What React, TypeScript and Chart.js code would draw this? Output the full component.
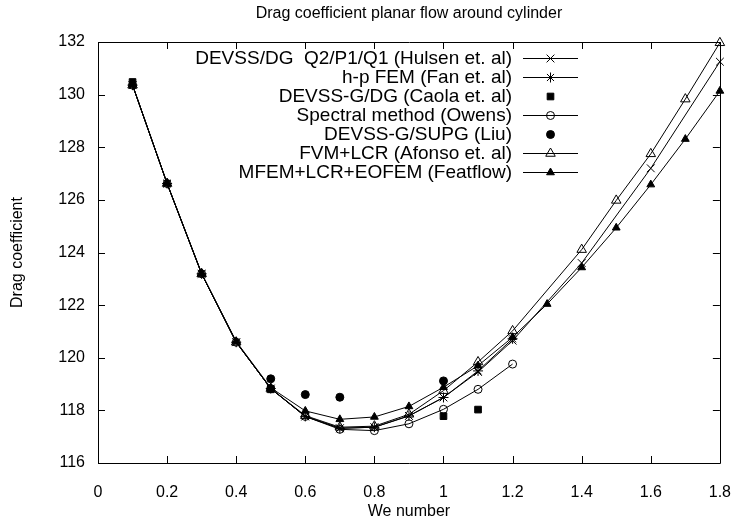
import React, { useEffect, useRef } from 'react';
import { Chart, registerables } from 'chart.js';
import { drawPoint } from 'chart.js/helpers';

Chart.register(...registerables);

// ---- data ----
const TITLE = 'Drag coefficient planar flow around cylinder';
const X_TITLE = 'We number';
const Y_TITLE = 'Drag coefficient';

const X_TICKS = [0, 0.2, 0.4, 0.6, 0.8, 1.0, 1.2, 1.4, 1.6, 1.8];
const Y_TICKS = [116, 118, 120, 122, 124, 126, 128, 130, 132];

const weHulsen = [0.1, 0.2, 0.3, 0.4, 0.5, 0.6, 0.7, 0.8, 0.9, 1.0, 1.1, 1.2, 1.4, 1.6, 1.8];
const cdHulsen = [130.36, 126.62, 123.19, 120.59, 118.83, 117.77, 117.32, 117.36, 117.79, 118.49, 119.46, 120.65, 123.6, 127.2, 131.25];

const weFan = [0.1, 0.2, 0.3, 0.4, 0.5, 0.6, 0.7, 0.8, 0.9, 1.0, 1.1, 1.2];
const cdFan = [130.36, 126.62, 123.19, 120.59, 118.83, 117.77, 117.32, 117.36, 117.79, 118.49, 119.5, 120.72];

const weCaola = [0.1, 0.5, 1.0, 1.1];
const cdCaola = [130.48, 118.8, 117.78, 118.03];

const weOwens = [0.1, 0.2, 0.3, 0.4, 0.5, 0.6, 0.7, 0.8, 0.9, 1.0, 1.1, 1.2];
const cdOwens = [130.36, 126.62, 123.19, 120.59, 118.83, 117.77, 117.28, 117.23, 117.49, 118.04, 118.8, 119.76];

const weLiu = [0.5, 0.6, 0.7, 1.0];
const cdLiu = [119.2, 118.6, 118.5, 119.12];

const weAfonso = [0.1, 0.2, 0.3, 0.4, 0.5, 0.6, 0.7, 0.8, 0.9, 1.0, 1.1, 1.2, 1.4, 1.5, 1.6, 1.7, 1.8];
const cdAfonso = [130.36, 126.62, 123.19, 120.59, 118.83, 117.8, 117.36, 117.4, 117.85, 118.75, 119.84, 121.02, 124.11, 125.98, 127.75, 129.83, 131.97];

const weFeat = [0.1, 0.2, 0.3, 0.4, 0.5, 0.6, 0.7, 0.8, 0.9, 1.0, 1.1, 1.2, 1.3, 1.4, 1.5, 1.6, 1.7, 1.8];
const cdFeat = [130.37, 126.63, 123.21, 120.62, 118.86, 117.98, 117.66, 117.75, 118.15, 118.88, 119.7, 120.78, 122.04, 123.43, 124.94, 126.58, 128.31, 130.14];

const LABELS = [
  'DEVSS/DG  Q2/P1/Q1 (Hulsen et. al)',
  'h-p FEM (Fan et. al)',
  'DEVSS-G/DG (Caola et. al)',
  'Spectral method (Owens)',
  'DEVSS-G/SUPG (Liu)',
  'FVM+LCR (Afonso et. al)',
  'MFEM+LCR+EOFEM (Featflow)',
];

const FONT = '"Liberation Sans", Arial, Helvetica, sans-serif';

const pts = (xs: number[], ys: number[]) => xs.map((x, i) => ({ x, y: ys[i] }));

const frameTicksPlugin = {
  id: 'frameTicks',
  beforeDatasetsDraw(chart: any) {
    const { ctx, chartArea } = chart;
    const { left, right, top, bottom } = chartArea;
    const xs = chart.scales.x;
    const ys = chart.scales.y;
    const L = 7;
    ctx.save();
    ctx.strokeStyle = '#000';
    ctx.lineWidth = 1;
    ctx.beginPath();
    ctx.rect(Math.round(left) + 0.5, Math.round(top) + 0.5, Math.round(right - left), Math.round(bottom - top));
    X_TICKS.forEach((v) => {
      const px = Math.round(xs.getPixelForValue(v)) + 0.5;
      ctx.moveTo(px, bottom);
      ctx.lineTo(px, bottom - L);
      ctx.moveTo(px, top);
      ctx.lineTo(px, top + L);
    });
    Y_TICKS.forEach((v) => {
      const py = Math.round(ys.getPixelForValue(v)) + 0.5;
      ctx.moveTo(left, py);
      ctx.lineTo(left + L, py);
      ctx.moveTo(right, py);
      ctx.lineTo(right - L, py);
    });
    ctx.stroke();
    ctx.restore();
  },
  afterDraw(chart: any) {
    const { ctx, chartArea } = chart;
    const cx = (chartArea.left + chartArea.right) / 2;
    const cy = (chartArea.top + chartArea.bottom) / 2;
    ctx.save();
    ctx.fillStyle = '#000';
    ctx.textAlign = 'center';
    ctx.textBaseline = 'middle';
    ctx.font = `16px ${FONT}`;
    ctx.fillText(TITLE, cx, 14);
    ctx.font = `16px ${FONT}`;
    ctx.fillText(X_TITLE, cx, 512);
    ctx.translate(18, cy);
    ctx.rotate(-Math.PI / 2);
    ctx.fillText(Y_TITLE, 0, 0);
    ctx.restore();
  },
};

const legendPlugin = {
  id: 'gpLegend',
  afterDatasetsDraw(chart: any) {
    const { ctx } = chart;
    ctx.save();
    ctx.font = `19px ${FONT}`;
    ctx.textAlign = 'right';
    ctx.textBaseline = 'middle';
    chart.data.datasets.forEach((ds: any, i: number) => {
      const y = 58 + i * 19;
      ctx.fillStyle = '#000';
      ctx.fillText(ds.label, 512, y + 1);
      ctx.strokeStyle = '#000';
      ctx.lineWidth = 1;
      if (ds.showLine) {
        ctx.beginPath();
        ctx.moveTo(523, Math.round(y) + 0.5);
        ctx.lineTo(578, Math.round(y) + 0.5);
        ctx.stroke();
      }
      ctx.fillStyle = ds.pointBackgroundColor;
      ctx.strokeStyle = '#000';
      drawPoint(ctx, { pointStyle: ds.pointStyle, radius: ds.pointRadius, rotation: 0, borderWidth: 1 }, 550.5, Math.round(y) + 0.5);
    });
    ctx.restore();
  },
};

const mk = (label: string, data: any[], style: string, radius: number, filled: boolean, line: boolean) => ({
  label,
  data,
  showLine: line,
  borderColor: '#000',
  borderWidth: 1,
  backgroundColor: filled ? '#000' : 'rgba(0,0,0,0)',
  pointStyle: style,
  pointRadius: radius,
  pointHoverRadius: radius,
  pointBorderWidth: 1,
  pointBorderColor: '#000',
  pointBackgroundColor: filled ? '#000' : 'rgba(0,0,0,0)',
  tension: 0,
  clip: false,
});

export default function App() {
  const ref = useRef<HTMLCanvasElement>(null);
  useEffect(() => {
    if (!ref.current) return;
    const chart = new Chart(ref.current, {
      type: 'scatter',
      data: {
        datasets: [
          mk(LABELS[0], pts(weHulsen, cdHulsen), 'crossRot', 5.5, false, true),
          mk(LABELS[1], pts(weFan, cdFan), 'star', 5, false, true),
          mk(LABELS[2], pts(weCaola, cdCaola), 'rect', 4.7, true, false),
          mk(LABELS[3], pts(weOwens, cdOwens), 'circle', 4, false, true),
          mk(LABELS[4], pts(weLiu, cdLiu), 'circle', 4, true, false),
          mk(LABELS[5], pts(weAfonso, cdAfonso), 'triangle', 5.5, false, true),
          mk(LABELS[6], pts(weFeat, cdFeat), 'triangle', 4.5, true, true),
        ] as any,
      },
      options: {
        responsive: false,
        animation: false,
        devicePixelRatio: 1,
        layout: { padding: { left: 0, top: 42, right: 15, bottom: 0 } },
        plugins: { legend: { display: false }, tooltip: { enabled: false }, title: { display: false } },
        scales: {
          x: {
            type: 'linear',
            min: 0,
            max: 1.8,
            border: { display: false },
            grid: { display: false, drawTicks: false },
            ticks: {
              stepSize: 0.2,
              padding: 20,
              color: '#000',
              font: { family: FONT, size: 16 },
              maxRotation: 0,
              autoSkip: false,
              callback: (v: any) => String(parseFloat(Number(v).toFixed(1))),
            },
            afterFit: (s: any) => { s.height = 63; },
          },
          y: {
            type: 'linear',
            min: 116,
            max: 132,
            border: { display: false },
            grid: { display: false, drawTicks: false },
            ticks: {
              stepSize: 2,
              padding: 13,
              color: '#000',
              font: { family: FONT, size: 16 },
              autoSkip: false,
            },
            afterFit: (s: any) => { s.width = 98; },
          },
        },
      } as any,
      plugins: [frameTicksPlugin, legendPlugin],
    });
    return () => chart.destroy();
  }, []);
  return (
    <div style={{ position: 'fixed', left: 0, top: 0, width: 751, height: 526, background: '#fff' }}>
      <canvas ref={ref} width={751} height={526} style={{ display: 'block' }} />
    </div>
  );
}
